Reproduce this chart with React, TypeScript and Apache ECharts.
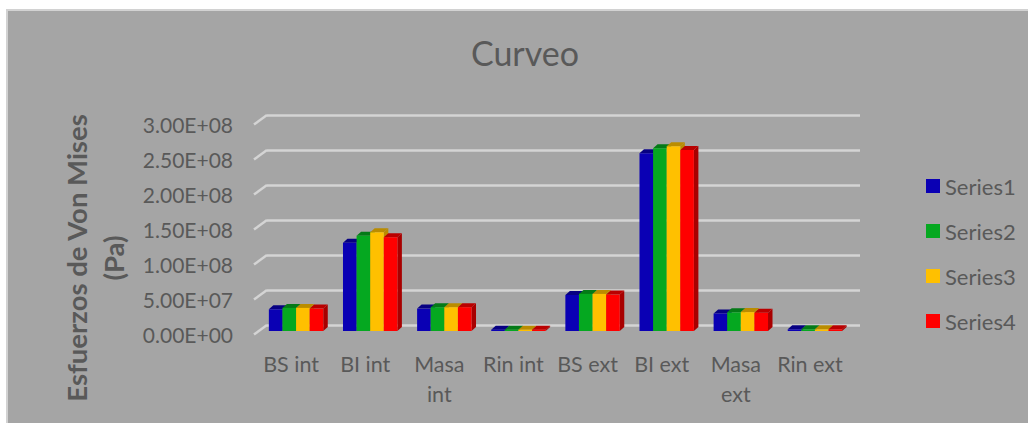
import React, { useEffect, useRef } from "react";
import * as echarts from "echarts";

const categories = ["BS int", "BI int", "Masa\nint", "Rin int", "BS ext", "BI ext", "Masa\next", "Rin ext"];
const seriesNames = ["Series1", "Series2", "Series3", "Series4"];
const series1 = [3.1e7, 1.26e8, 3.2e7, 1.9e6, 5.14e7, 2.54e8, 2.5e7, 2.4e6];
const series2 = [3.3e7, 1.36e8, 3.4e7, 1.9e6, 5.3e7, 2.61e8, 2.67e7, 2.4e6];
const series3 = [3.3e7, 1.41e8, 3.4e7, 1.9e6, 5.3e7, 2.64e8, 2.7e7, 2.4e6];
const series4 = [3.2e7, 1.34e8, 3.4e7, 1.9e6, 5.2e7, 2.585e8, 2.6e7, 2.4e6];
const seriesValues = [series1, series2, series3, series4];
const frontColors = ["#0a00b4", "#05a820", "#ffc000", "#ff0000"];
const topColors = ["#070082", "#047a17", "#ba8c00", "#ba0000"];
const sideColors = ["#070082", "#047a17", "#ba8c00", "#a80000"];

const TEXT = "#595959";
const FONT = "Lato";
const BAR_W = 13.6;
const DX = 4.5;
const DY = 4;
const SHIFT_X = -8;
const SHIFT_Y = 6;

function barRender(idx: number) {
  return (_params: any, api: any) => {
    const cat = api.value(0);
    const v = api.value(1);
    const top = api.coord([cat, v]);
    const base = api.coord([cat, 0]);
    const x = top[0] + SHIFT_X + (idx - 2) * BAR_W;
    const yT = top[1] + SHIFT_Y;
    const yB = base[1] + SHIFT_Y;
    return {
      type: "group",
      children: [
        {
          type: "polygon",
          shape: { points: [[x + BAR_W, yB], [x + BAR_W + DX, yB - DY], [x + BAR_W + DX, yT - DY], [x + BAR_W, yT]] },
          style: { fill: sideColors[idx] },
        },
        {
          type: "polygon",
          shape: { points: [[x, yT], [x + DX, yT - DY], [x + BAR_W + DX, yT - DY], [x + BAR_W, yT]] },
          style: { fill: topColors[idx] },
        },
        {
          type: "rect",
          shape: { x, y: yT, width: BAR_W, height: yB - yT },
          style: { fill: frontColors[idx] },
        },
      ],
    };
  };
}

// short diagonal wall ticks joining each gridline to the front of the floor
const wallValues = [0, 5e7, 1e8, 1.5e8, 2e8, 2.5e8, 3e8];
function wallRender(params: any, api: any) {
  const p = api.coord([0, api.value(0)]);
  const x = params.coordSys.x;
  return {
    type: "line",
    shape: { x1: x, y1: p[1], x2: x - 13, y2: p[1] + 9.5 },
    style: { stroke: "#d4d4d4", lineWidth: 2.5 },
  };
}

export default function App() {
  const ref = useRef<HTMLDivElement>(null);
  useEffect(() => {
    const chart = echarts.init(ref.current!, undefined, { renderer: "svg" });
    chart.setOption({
      animation: false,
      backgroundColor: "#ffffff",
      textStyle: { fontFamily: FONT },
      graphic: [
        {
          type: "rect",
          z: 0,
          shape: { x: 7, y: 10, width: 1040, height: 430 },
          style: { fill: "#a5a5a5", stroke: "#d2d2d2", lineWidth: 2 },
        },
      ],
      title: {
        text: "Curveo",
        left: 525,
        top: 35,
        padding: 0,
        textAlign: "center",
        textStyle: { color: TEXT, fontSize: 34, fontWeight: "normal", fontFamily: FONT },
      },
      legend: {
        orient: "vertical",
        left: 926,
        top: 175,
        padding: 0,
        itemWidth: 14,
        itemHeight: 14,
        itemGap: 23,
        icon: "rect",
        data: seriesNames,
        textStyle: { color: TEXT, fontSize: 22, fontFamily: FONT, lineHeight: 22 },
      },
      grid: { left: 267, right: 168, top: 115, bottom: 98 },
      xAxis: {
        type: "category",
        data: categories,
        axisLine: { show: false },
        axisTick: { show: false },
        axisLabel: {
          interval: 0,
          color: TEXT,
          fontSize: 21.5,
          fontFamily: FONT,
          margin: 24,
          lineHeight: 30,
          padding: [0, 26, 0, 0],
        },
      },
      yAxis: {
        type: "value",
        min: 0,
        max: 3e8,
        interval: 5e7,
        name: "Esfuerzos de Von Mises\n(Pa)",
        nameLocation: "middle",
        nameRotate: 90,
        nameGap: 135,
        nameTextStyle: {
          color: TEXT,
          fontSize: 27.5,
          fontWeight: "bold",
          fontFamily: FONT,
          lineHeight: 37,
          padding: [0, 76, 0, 0],
        },
        axisLine: { show: false },
        axisTick: { show: false },
        splitLine: { lineStyle: { color: "#d4d4d4", width: 2.5 } },
        axisLabel: {
          color: TEXT,
          fontSize: 21,
          fontFamily: FONT,
          margin: 34,
          verticalAlign: "top",
          lineHeight: 18,
          formatter: (v: number) => v.toExponential(2).replace(/e\+?(\d+)/, (_m, e) => "E+" + e.padStart(2, "0")),
        },
      },
      series: [
        {
          type: "custom",
          name: "walls",
          silent: true,
          data: wallValues.map((v) => [v]),
          encode: { y: 0 },
          renderItem: wallRender,
          z: 1,
        },
        ...seriesNames.map((name, i) => ({
          type: "custom",
          name,
          itemStyle: { color: frontColors[i] },
          data: seriesValues[i].map((v, c) => [c, v]),
          encode: { x: 0, y: 1 },
          renderItem: barRender(i),
          z: 3 + i,
        })),
      ],
    });
    return () => chart.dispose();
  }, []);
  return <div ref={ref} style={{ position: "fixed", left: 0, top: 0, width: 1028, height: 423 }} />;
}
